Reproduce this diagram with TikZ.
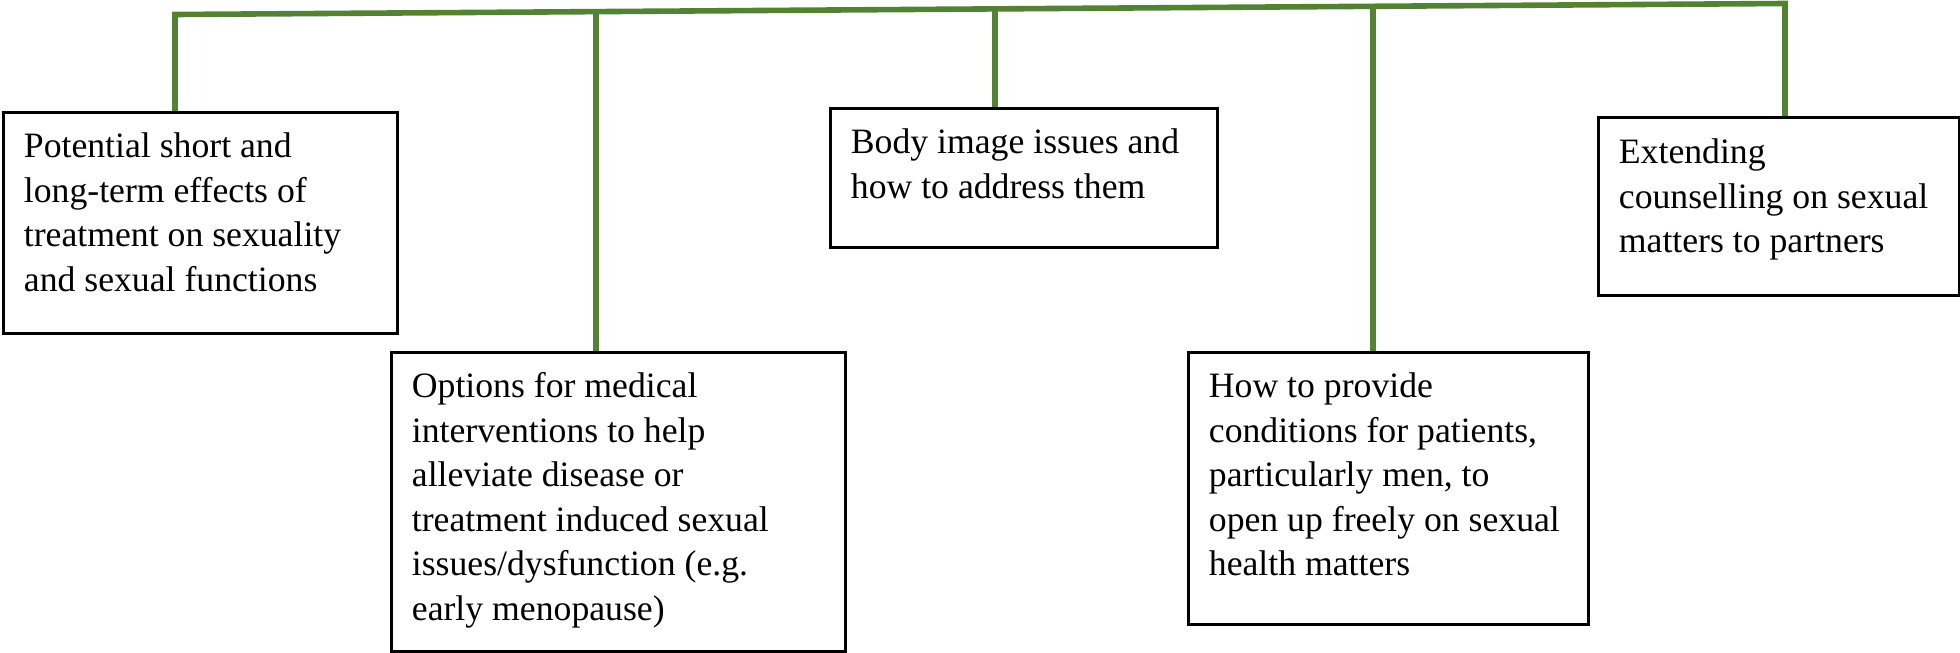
\documentclass[tikz,border=0pt]{standalone}
\usepackage{fontspec}
\setmainfont{Liberation Serif}
\usetikzlibrary{calc}
\definecolor{branchgreen}{HTML}{548235}
\begin{document}
\begin{tikzpicture}[x=0.5pt,y=-0.5pt,
  box/.style={draw=black, line width=1.1pt, rectangle, anchor=north west, inner sep=0pt, fill=white},
  boxtext/.style={anchor=north west, inner sep=0pt, align=left, font=\fontsize{17.85}{22.3}\selectfont},
  branch/.style={draw=branchgreen, line width=2.8pt, line join=miter}]
\useasboundingbox (0,0) rectangle (1960,653);

% junctions on the top bar
\coordinate (j1) at (175,14.5);
\coordinate (j2) at (596,11.6);
\coordinate (j3) at (995,8.9);
\coordinate (j4) at (1373,6.3);
\coordinate (j5) at (1785,3.5);

% boxes
\node[box, minimum width=196.5pt, minimum height=110pt] (b1) at (3,112) {};
\node[box, minimum width=226.5pt, minimum height=149pt] (b2) at (391,352) {};
\node[box, minimum width=193pt, minimum height=69pt] (b3) at (830,108) {};
\node[box, minimum width=199.5pt, minimum height=135.5pt] (b4) at (1188,352) {};
\node[box, minimum width=180pt, minimum height=88.5pt] (b5) at (1598,117) {};

% connectors
\draw[branch] (j1 |- b1.north) -- (j1) -- (j5) -- (j5 |- b5.north);
\draw[branch] (j2) -- (j2 |- b2.north);
\draw[branch] (j3) -- (j3 |- b3.north);
\draw[branch] (j4) -- (j4 |- b4.north);

% box borders over the line ends
\foreach \b in {b1,b2,b3,b4,b5}{
  \draw[line width=1.1pt] (\b.north west) rectangle (\b.south east);
}

% texts
\node[boxtext] (t1) at ($(b1.north west)+(20.5,13.8)$) {\strut Potential short and\\long-term effects of\\treatment on sexuality\\and sexual functions};
\node[boxtext] (t2) at ($(b2.north west)+(20.5,13.8)$) {\strut Options for medical\\interventions to help\\alleviate disease or\\treatment induced sexual\\issues/dysfunction (e.g.\\early menopause)};
\node[boxtext] (t3) at ($(b3.north west)+(20.5,13.8)$) {\strut Body image issues and\\how to address them};
\node[boxtext] (t4) at ($(b4.north west)+(20.5,13.8)$) {\strut How to provide\\conditions for patients,\\particularly men, to\\open up freely on sexual\\health matters};
\node[boxtext] (t5) at ($(b5.north west)+(20.5,14.8)$) {\strut Extending\\counselling on sexual\\matters to partners};
\end{tikzpicture}
\end{document}
